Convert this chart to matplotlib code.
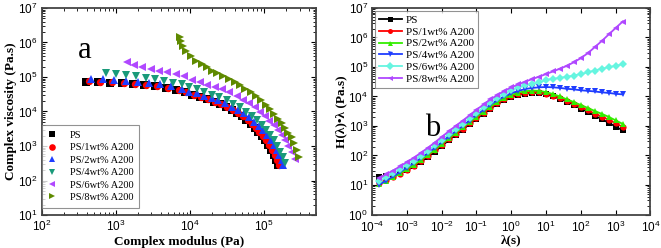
import numpy as np
import matplotlib
matplotlib.use("Agg")
import matplotlib.pyplot as plt

plt.rcParams['font.family'] = ['Liberation Sans', 'DejaVu Sans']
plt.rcParams['mathtext.fontset'] = 'custom'
plt.rcParams['mathtext.rm'] = 'Liberation Sans'

SERIF = ['Liberation Serif', 'DejaVu Serif']

labels = ["PS", "PS/1wt% A200", "PS/2wt% A200", "PS/4wt% A200", "PS/6wt% A200", "PS/8wt% A200"]

# ---- panel a: complex viscosity vs complex modulus ----
G_ps = [389, 562, 822, 1189, 1698, 2399, 3350, 4677, 6531, 8414, 1.07e4, 1.35e4, 1.68e4, 2.07e4, 2.51e4,
        3.03e4, 3.63e4, 4.29e4, 4.99e4, 5.75e4, 6.58e4, 7.45e4, 8.38e4, 9.33e4, 1.035e5, 1.14e5, 1.245e5,
        1.35e5, 1.45e5, 1.556e5]
eta_ps = [7.16e4, 7.11e4, 6.89e4, 6.53e4, 6.17e4, 5.82e4, 5.35e4, 4.79e4, 4.06e4, 3.55e4, 3.09e4, 2.66e4,
          2.26e4, 1.93e4, 1.62e4, 1.35e4, 1.11e4, 9016, 7244, 5754, 4467, 3428, 2600, 1950, 1445, 1059, 776,
          562, 398, 275]

G_1 = [425, 611, 891, 1288, 1828, 2570, 3589, 5012, 7000, 8913, 1.135e4, 1.413e4, 1.758e4, 2.163e4, 2.63e4,
       3.16e4, 3.78e4, 4.47e4, 5.19e4, 5.96e4, 6.79e4, 7.67e4, 8.61e4, 9.59e4, 1.064e5, 1.17e5, 1.274e5,
       1.38e5, 1.486e5, 1.585e5]
eta_1 = [7.40e4, 7.35e4, 7.08e4, 6.70e4, 6.31e4, 5.96e4, 5.43e4, 4.84e4, 4.07e4, 3.55e4, 3.09e4, 2.66e4,
         2.26e4, 1.93e4, 1.62e4, 1.35e4, 1.11e4, 9016, 7244, 5754, 4467, 3428, 2600, 1950, 1445, 1059, 776,
         562, 398, 275]

G_2 = [457, 664, 942, 1368, 1954, 2748, 3873, 5445, 7709, 9750, 1.227e4, 1.538e4, 1.954e4, 2.40e4, 2.95e4,
       3.64e4, 4.47e4, 5.32e4, 6.28e4, 7.26e4, 8.41e4, 9.51e4, 1.076e5, 1.219e5, 1.352e5, 1.469e5, 1.592e5,
       1.714e5, 1.803e5]
eta_2 = [8.87e4, 8.69e4, 8.30e4, 7.76e4, 7.26e4, 6.79e4, 6.14e4, 5.45e4, 4.46e4, 3.79e4, 3.41e4, 2.84e4,
         2.44e4, 2.08e4, 1.746e4, 1.393e4, 1.117e4, 8954, 6855, 5105, 3837, 2931, 2099, 1503, 1076, 771,
         552, 395, 282]

G_4 = [738, 993, 1355, 1866, 2523, 3365, 4487, 5943, 7780, 9750, 1.227e4, 1.538e4, 1.954e4, 2.48e4, 3.11e4,
       3.82e4, 4.70e4, 5.66e4, 6.76e4, 7.91e4, 9.23e4, 1.054e5, 1.194e5, 1.352e5, 1.496e5, 1.629e5,
       1.770e5, 1.932e5]
eta_4 = [1.297e5, 1.213e5, 1.135e5, 1.035e5, 9.48e4, 8.45e4, 7.60e4, 6.79e4, 6.05e4, 5.09e4, 4.40e4,
         3.55e4, 3.04e4, 2.61e4, 2.08e4, 1.667e4, 1.337e4, 9977, 7482, 5728, 4102, 2931, 2099, 1503, 1007,
         687, 473, 330]

G_6 = [1400, 1754, 2270, 2944, 3811, 4932, 6457, 8279, 1.076e4, 1.358e4, 1.714e4, 2.168e4, 2.735e4, 3.40e4,
       4.25e4, 5.21e4, 6.28e4, 7.50e4, 8.75e4, 1.021e5, 1.167e5, 1.352e5, 1.545e5, 1.714e5, 1.901e5,
       2.104e5, 2.339e5, 2.594e5]
eta_6 = [2.704e5, 2.259e5, 1.888e5, 1.652e5, 1.514e5, 1.352e5, 1.213e5, 1.035e5, 8.30e4, 7.01e4, 5.94e4,
         5.02e4, 4.40e4, 3.72e4, 2.84e4, 2.18e4, 1.746e4, 1.337e4, 9977, 7482, 5458, 4102, 2931, 2099, 1503,
         1007, 687, 414]

G_8 = [7311, 7534, 7943, 8810, 1.019e4, 1.202e4, 1.432e4, 1.675e4, 1.954e4, 2.339e4, 2.818e4, 3.40e4,
       4.03e4, 4.78e4, 5.58e4, 6.56e4, 7.73e4, 9.04e4, 1.054e5, 1.194e5, 1.352e5, 1.517e5, 1.714e5,
       1.901e5, 2.104e5, 2.339e5, 2.512e5, 2.761e5, 2.938e5]
eta_8 = [1.403e6, 1.072e6, 8.05e5, 5.50e5, 3.94e5, 2.95e5, 2.37e5, 1.888e5, 1.514e5, 1.279e5, 1.062e5,
         8.57e4, 7.01e4, 5.74e4, 4.46e4, 3.55e4, 2.72e4, 2.08e4, 1.560e4, 1.169e4, 8551, 5998, 4592, 3289,
         2449, 1799, 1205, 771, 467]

# ---- panel b: relaxation spectrum H(lambda)*lambda, values as log10 ----
lam = [1.6e-4, 2.5e-4, 4.0e-4, 6.3e-4, 1.0e-3, 1.6e-3, 2.5e-3, 4.0e-3, 6.3e-3, 1.0e-2, 1.6e-2, 2.5e-2,
       4.0e-2, 6.3e-2, 0.1, 0.16, 0.25, 0.4, 0.63, 1.0, 1.6, 2.5, 4.0, 6.3, 10, 16, 25, 40, 63, 100,
       160, 250, 400, 630, 1000, 1600]
logH_ps = [1.28, 1.30, 1.34, 1.41, 1.50, 1.63, 1.78, 1.95, 2.13, 2.32, 2.52, 2.70, 2.88, 3.06, 3.24, 3.42,
           3.59, 3.74, 3.87, 3.97, 4.05, 4.10, 4.12, 4.11, 4.07, 4.00, 3.92, 3.82, 3.71, 3.59, 3.47, 3.35,
           3.23, 3.11, 2.98, 2.85]
logH_1 = [1.08, 1.16, 1.26, 1.38, 1.51, 1.66, 1.82, 1.99, 2.17, 2.36, 2.55, 2.73, 2.91, 3.09, 3.27, 3.45,
          3.62, 3.77, 3.90, 4.00, 4.08, 4.13, 4.15, 4.14, 4.10, 4.03, 3.95, 3.85, 3.75, 3.64, 3.53, 3.42,
          3.32, 3.21, 3.09, 2.97]
logH_2 = [1.03, 1.14, 1.26, 1.39, 1.54, 1.69, 1.85, 2.02, 2.20, 2.39, 2.58, 2.77, 2.95, 3.13, 3.31, 3.49,
          3.66, 3.81, 3.94, 4.05, 4.13, 4.18, 4.20, 4.19, 4.15, 4.08, 4.00, 3.90, 3.81, 3.71, 3.61, 3.51,
          3.41, 3.31, 3.19, 3.07]
logH_4 = [1.01, 1.15, 1.29, 1.44, 1.59, 1.75, 1.91, 2.08, 2.26, 2.45, 2.64, 2.82, 3.00, 3.18, 3.37, 3.55,
          3.72, 3.87, 4.00, 4.11, 4.19, 4.25, 4.29, 4.31, 4.32, 4.31, 4.29, 4.26, 4.24, 4.21, 4.19, 4.17,
          4.14, 4.12, 4.09, 4.07]
logH_6 = [1.13, 1.26, 1.39, 1.53, 1.68, 1.83, 1.99, 2.16, 2.34, 2.53, 2.72, 2.90, 3.08, 3.26, 3.45, 3.63,
          3.80, 3.95, 4.09, 4.21, 4.31, 4.38, 4.43, 4.48, 4.56, 4.60, 4.63, 4.67, 4.71, 4.76, 4.82, 4.88,
          4.94, 4.99, 5.04, 5.09]
logH_8 = [1.23, 1.36, 1.49, 1.63, 1.78, 1.93, 2.09, 2.26, 2.44, 2.63, 2.82, 3.00, 3.18, 3.36, 3.55, 3.73,
          3.90, 4.05, 4.19, 4.31, 4.41, 4.50, 4.59, 4.67, 4.76, 4.85, 4.94, 5.04, 5.16, 5.30, 5.47, 5.67,
          5.88, 6.10, 6.32, 6.54]

fig = plt.figure(figsize=(6.61, 2.48), dpi=100)
ax1 = fig.add_axes([0.0635, 0.133, 0.4145, 0.835])
ax2 = fig.add_axes([0.563, 0.135, 0.421, 0.833])

# panel a
a_series = [(G_ps, eta_ps, 's', 'black'), (G_1, eta_1, 'o', 'red'), (G_2, eta_2, '^', '#1f3dff'),
            (G_4, eta_4, 'v', '#1a9a7a'), (G_6, eta_6, '<', '#b048ff'), (G_8, eta_8, '>', '#5f8a00')]
for (x, y, m, c), lab in zip(a_series, labels):
    ax1.plot(x, y, linestyle='none', marker=m, color=c, markersize=5.3, markeredgewidth=0, label=lab)

ax1.set_xscale('log')
ax1.set_yscale('log')
ax1.set_xlim(1e2, 5e5)
ax1.set_ylim(1e1, 1e7)
ax1.set_xlabel('Complex modulus (Pa)', family=SERIF, fontweight='bold', fontsize=9.5, labelpad=1)
ax1.set_ylabel('Complex viscosity (Pa.s)', family=SERIF, fontweight='bold', fontsize=9.5, labelpad=1)
ax1.text(0.13, 0.76, 'a', transform=ax1.transAxes, family=SERIF, fontsize=22)
leg1 = ax1.legend(loc='lower left', bbox_to_anchor=(0.0, 0.035), prop={'family': SERIF, 'size': 7.5},
                  frameon=True, fancybox=False, handlelength=0.9, handletextpad=1.2, labelspacing=0.3,
                  borderaxespad=0.0, borderpad=0.55, edgecolor='#777777', markerscale=0.9)
leg1.get_frame().set_linewidth(0.8)

# panel b
b_series = [(logH_ps, 's', 'black'), (logH_1, 'o', 'red'), (logH_2, '^', '#33ee00'),
            (logH_4, 'v', '#1f3dff'), (logH_6, 'D', '#66f5e0'), (logH_8, '<', '#b048ff')]
for (ly, m, c), lab in zip(b_series, labels):
    ax2.plot(lam, 10 ** np.array(ly), linestyle='-', linewidth=1.3, marker=m, color=c, markersize=4.5,
             markeredgewidth=0, label=lab)

ax2.set_xscale('log')
ax2.set_yscale('log')
ax2.set_xlim(1e-4, 1e4)
ax2.set_ylim(1e0, 1e7)
ax2.set_xlabel('λ(s)', family=SERIF, fontweight='bold', fontsize=9.5, labelpad=-1)
ax2.set_ylabel('H(λ)•λ (Pa.s)', family=SERIF, fontweight='bold', fontsize=9.5, labelpad=1)
ax2.text(0.19, 0.38, 'b', transform=ax2.transAxes, family=SERIF, fontsize=22)
leg2 = ax2.legend(loc='upper left', prop={'family': SERIF, 'size': 8}, frameon=True, fancybox=False,
                  handlelength=2.0, handletextpad=0.4, labelspacing=0.18, borderaxespad=0.3,
                  borderpad=0.35, edgecolor='#777777', markerscale=0.8)
leg2.get_frame().set_linewidth(0.8)

for ax in (ax1, ax2):
    ax.tick_params(which='both', direction='in', top=True, right=True, labelsize=8.5, pad=3)
    ax.tick_params(which='major', length=3.5, width=0.8)
    ax.tick_params(which='minor', length=2, width=0.6)
    for sp in ax.spines.values():
        sp.set_linewidth(1.3)
        sp.set_color('#444444')

ax2.tick_params(axis='x', which='both', pad=4)
ax2.set_xticks([10.0 ** k for k in range(-4, 5)])
ax2.set_yticks([10.0 ** k for k in range(0, 8)])
ax1.set_yticks([10.0 ** k for k in range(1, 8)])

fig.savefig('out.png', dpi=100)
